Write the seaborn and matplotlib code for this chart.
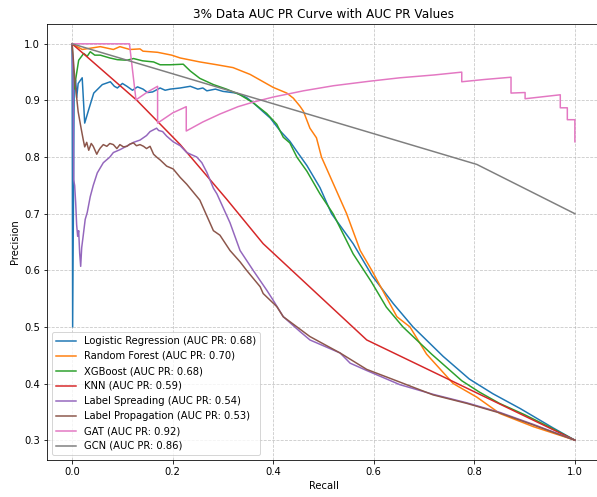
import matplotlib
matplotlib.use("Agg")
import matplotlib.pyplot as plt
import seaborn as sns
import pandas as pd

models = ["Logistic Regression", "Random Forest", "XGBoost", "KNN",
          "Label Spreading", "Label Propagation", "GAT", "GCN"]
auc_values = [0.68, 0.70, 0.68, 0.59, 0.54, 0.53, 0.92, 0.86]

lr_recall = [0.0, 0.001, 0.004, 0.007, 0.009, 0.012, 0.016, 0.020, 0.025, 0.033, 0.043, 0.06,
             0.076, 0.084, 0.09, 0.1, 0.109, 0.12, 0.13, 0.141, 0.15, 0.16, 0.175, 0.185, 0.195,
             0.215, 0.235, 0.25, 0.26, 0.268, 0.285, 0.30, 0.327, 0.347, 0.36, 0.38, 0.394,
             0.414, 0.433, 0.447, 0.467, 0.493, 0.516, 0.559, 0.597, 0.639, 0.678, 0.738, 0.79,
             0.837, 0.891, 0.956, 1.0]
lr_prec = [1.0, 0.5, 0.92, 0.936, 0.905, 0.93, 0.935, 0.94, 0.86, 0.884, 0.913, 0.928,
           0.933, 0.925, 0.922, 0.93, 0.925, 0.918, 0.924, 0.92, 0.914, 0.915, 0.922, 0.918, 0.92,
           0.922, 0.925, 0.92, 0.922, 0.917, 0.92, 0.916, 0.913, 0.905, 0.896, 0.88, 0.869,
           0.846, 0.828, 0.81, 0.785, 0.746, 0.70, 0.647, 0.59, 0.541, 0.50, 0.448, 0.408,
           0.382, 0.356, 0.322, 0.3]

rf_recall = [0.0, 0.02, 0.056, 0.082, 0.095, 0.115, 0.135, 0.141, 0.17, 0.198, 0.215, 0.254,
             0.288, 0.32, 0.354, 0.374, 0.40, 0.427, 0.44, 0.453, 0.46, 0.473, 0.486, 0.496,
             0.52, 0.546, 0.573, 0.596, 0.646, 0.672, 0.705, 0.758, 0.805, 0.851, 0.917, 1.0]
rf_prec = [1.0, 0.99, 0.995, 0.99, 0.995, 0.99, 0.991, 0.987, 0.985, 0.98, 0.975, 0.968,
           0.963, 0.958, 0.946, 0.936, 0.923, 0.913, 0.904, 0.89, 0.881, 0.851, 0.834, 0.80,
           0.752, 0.70, 0.635, 0.60, 0.518, 0.50, 0.452, 0.40, 0.376, 0.347, 0.324, 0.3]

xg_recall = [0.0, 0.004, 0.007, 0.013, 0.023, 0.03, 0.036, 0.045, 0.056, 0.075, 0.09, 0.109,
             0.122, 0.14, 0.162, 0.175, 0.195, 0.221, 0.235, 0.254, 0.281, 0.307, 0.334, 0.36,
             0.387, 0.407, 0.42, 0.433, 0.447, 0.467, 0.493, 0.519, 0.559, 0.595, 0.625, 0.658,
             0.715, 0.775, 0.81, 0.85, 0.9, 0.95, 1.0]
xg_prec = [1.0, 0.92, 0.937, 0.971, 0.983, 0.978, 0.986, 0.98, 0.98, 0.975, 0.972, 0.971,
           0.974, 0.97, 0.968, 0.963, 0.963, 0.964, 0.952, 0.939, 0.928, 0.92, 0.91, 0.896,
           0.877, 0.858, 0.835, 0.825, 0.80, 0.775, 0.735, 0.70, 0.629, 0.58, 0.535, 0.50,
           0.452, 0.405, 0.385, 0.365, 0.345, 0.323, 0.3]

knn_recall = [0.0, 0.129, 0.215, 0.307, 0.38, 0.586, 1.0]
knn_prec = [1.0, 0.9, 0.822, 0.726, 0.647, 0.477, 0.3]

ls_recall = [0.0, 0.002, 0.003, 0.005, 0.007, 0.009, 0.011, 0.013, 0.015, 0.017, 0.019, 0.022,
             0.026, 0.03, 0.036, 0.042, 0.05, 0.062, 0.075, 0.082, 0.095, 0.11, 0.122, 0.135,
             0.148, 0.155, 0.168, 0.172, 0.18, 0.188, 0.201, 0.215, 0.228, 0.248, 0.258, 0.268,
             0.281, 0.288, 0.314, 0.334, 0.36, 0.387, 0.40, 0.42, 0.453, 0.473, 0.533, 0.553,
             0.586, 0.652, 0.718, 0.785, 0.851, 0.917, 1.0]
ls_prec = [1.0, 0.93, 0.76, 0.75, 0.72, 0.68, 0.66, 0.67, 0.63, 0.607, 0.64, 0.661,
           0.69, 0.702, 0.73, 0.75, 0.772, 0.79, 0.80, 0.808, 0.813, 0.82, 0.826, 0.83,
           0.838, 0.845, 0.851, 0.847, 0.845, 0.837, 0.827, 0.82, 0.808, 0.80, 0.79, 0.773,
           0.745, 0.735, 0.684, 0.635, 0.60, 0.565, 0.547, 0.518, 0.492, 0.477, 0.454, 0.436,
           0.423, 0.398, 0.381, 0.366, 0.349, 0.328, 0.3]

lp_recall = [0.0, 0.006, 0.012, 0.018, 0.022, 0.025, 0.029, 0.033, 0.038, 0.042, 0.049, 0.053,
             0.056, 0.062, 0.069, 0.075, 0.082, 0.089, 0.095, 0.102, 0.109, 0.115, 0.122, 0.128,
             0.135, 0.142, 0.148, 0.155, 0.162, 0.168, 0.175, 0.188, 0.201, 0.215, 0.228, 0.254,
             0.281, 0.294, 0.314, 0.334, 0.347, 0.374, 0.38, 0.407, 0.42, 0.473, 0.533, 0.586,
             0.639, 0.718, 0.785, 0.851, 0.917, 1.0]
lp_prec = [1.0, 0.93, 0.88, 0.85, 0.831, 0.818, 0.826, 0.812, 0.824, 0.819, 0.805, 0.812,
           0.816, 0.822, 0.819, 0.824, 0.822, 0.815, 0.822, 0.818, 0.819, 0.823, 0.825, 0.82,
           0.822, 0.819, 0.815, 0.819, 0.805, 0.80, 0.795, 0.784, 0.779, 0.764, 0.752, 0.724,
           0.67, 0.662, 0.635, 0.615, 0.60, 0.571, 0.559, 0.536, 0.518, 0.483, 0.454, 0.425,
           0.407, 0.38, 0.365, 0.348, 0.327, 0.3]

gat_recall = [0.0, 0.114, 0.127, 0.15, 0.17, 0.17, 0.20, 0.227, 0.227, 0.26, 0.294, 0.33,
              0.36, 0.40, 0.46, 0.52, 0.592, 0.652, 0.72, 0.775, 0.775, 0.82, 0.873, 0.873,
              0.901, 0.901, 0.971, 0.971, 0.985, 0.985, 1.0, 1.0]
gat_prec = [1.0, 1.0, 0.901, 0.915, 0.925, 0.86, 0.878, 0.889, 0.846, 0.862, 0.876, 0.889,
            0.897, 0.906, 0.917, 0.926, 0.934, 0.94, 0.945, 0.95, 0.933, 0.937, 0.941, 0.913,
            0.914, 0.903, 0.91, 0.887, 0.887, 0.866, 0.866, 0.827]

gcn_recall = [0.0, 0.805, 1.0]
gcn_prec = [1.0, 0.787, 0.70]

recalls = [lr_recall, rf_recall, xg_recall, knn_recall, ls_recall, lp_recall, gat_recall, gcn_recall]
precs = [lr_prec, rf_prec, xg_prec, knn_prec, ls_prec, lp_prec, gat_prec, gcn_prec]

frames = []
labels = []
for name, auc, r, p in zip(models, auc_values, recalls, precs):
    lab = f"{name} (AUC PR: {auc:.2f})"
    labels.append(lab)
    frames.append(pd.DataFrame({"Recall": r, "Precision": p, "Model": lab}))
df = pd.concat(frames, ignore_index=True)

palette = dict(zip(labels, sns.color_palette("tab10", 8)))

DPI = 72
fig = plt.figure(figsize=(597 / DPI, 497 / DPI), dpi=DPI)
ax = fig.add_axes([47 / 597, 1 - 460 / 497, 553 / 597, 436 / 497])
sns.lineplot(data=df, x="Recall", y="Precision", hue="Model", hue_order=labels,
             palette=palette, sort=False, estimator=None, units="Model",
             linewidth=1.5, ax=ax)
ax.set_title("3% Data AUC PR Curve with AUC PR Values", fontsize=12)
ax.set_xlabel("Recall")
ax.set_ylabel("Precision")
ax.set_xlim(-0.05, 1.05)
ax.set_ylim(0.265, 1.035)
ax.set_xticks([0.0, 0.2, 0.4, 0.6, 0.8, 1.0])
ax.set_yticks([0.3, 0.4, 0.5, 0.6, 0.7, 0.8, 0.9, 1.0])
ax.grid(True, linestyle="--", alpha=0.7)
leg = ax.legend(loc="lower left", fontsize=10)
leg.set_title(None)
fig.savefig("out.png", dpi=DPI)
